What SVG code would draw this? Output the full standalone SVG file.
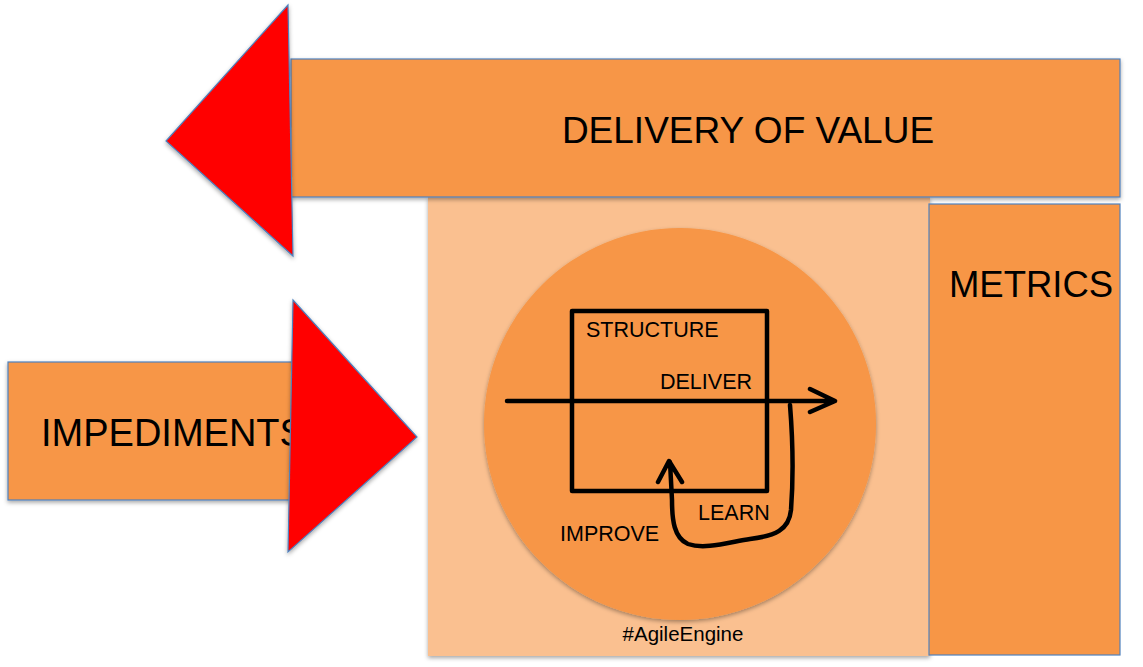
<svg xmlns="http://www.w3.org/2000/svg" width="1143" height="667" viewBox="0 0 1143 667">
<defs>
<filter id="sh" x="-10%" y="-10%" width="120%" height="125%">
<feDropShadow dx="0" dy="2" stdDeviation="2" flood-color="#000" flood-opacity="0.35"/>
</filter>
</defs>
<style>
.box{fill:#F79646;stroke:#4F81BD;stroke-width:1.2}
.red{fill:#FF0000;stroke:#4F81BD;stroke-width:1.2}
.big{font-family:"Liberation Sans",Arial,sans-serif;fill:#000}
.sm{font-family:"Liberation Sans",Arial,sans-serif;font-size:21.5px;fill:#000}
.ink{fill:none;stroke:#000;stroke-width:4.5;stroke-linecap:round;stroke-linejoin:round}
</style>
<rect width="1143" height="667" fill="#fff"/>
<g id="background">
<rect x="428" y="197" width="502" height="459" fill="#FAC090" filter="url(#sh)"/>
<circle cx="680" cy="424" r="196" fill="#F79646" filter="url(#sh)"/>
<text x="683" y="641" text-anchor="middle" font-family="Liberation Sans,Arial,sans-serif" font-size="20.5" fill="#000">#AgileEngine</text>
</g>
<g id="delivery">
<rect class="box" x="291" y="59" width="829" height="138" filter="url(#sh)"/>
<polygon class="red" points="288,5 166,141 293,256" filter="url(#sh)"/>
<text class="big" x="748" y="143" text-anchor="middle" font-size="37">DELIVERY OF VALUE</text>
</g>
<g id="metrics">
<rect class="box" x="929" y="204" width="191" height="451"/>
<text class="big" x="1031" y="297" text-anchor="middle" font-size="36.5">METRICS</text>
</g>
<g id="impediments">
<rect class="box" x="8" y="362" width="285" height="138" filter="url(#sh)"/>
<text class="big" x="41" y="446" font-size="38">IMPEDIMENTS</text>
<polygon class="red" points="293,300 417,437 288,552" filter="url(#sh)"/>
</g>
<g id="structure">
<rect class="ink" x="572" y="311" width="195" height="180"/>
<text class="sm" x="586" y="337">STRUCTURE</text>
</g>
<g id="connectors">
<path class="ink" d="M507,401 L834,401 M810,389 L835,401 L810,412"/>
<path class="ink" d="M790,405 C792,430 794,470 791,510 C789,530 775,536 750,539 C730,542 705,550 688,544 C674,538 672,520 672,500 L670,462 M658,482 L669,461 L682,482"/>
<text class="sm" x="660" y="389">DELIVER</text>
<text class="sm" x="698" y="520">LEARN</text>
<text class="sm" x="560" y="541">IMPROVE</text>
</g>
</svg>
